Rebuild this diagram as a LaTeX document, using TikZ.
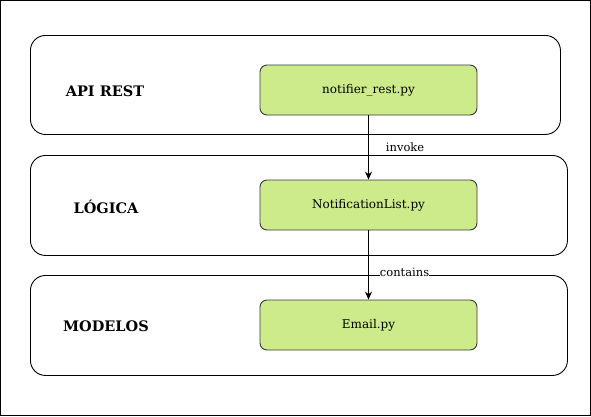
\documentclass[tikz,border=0pt]{standalone}
\usepackage{fontspec}
\setmainfont{DejaVu Serif}
\usetikzlibrary{positioning,arrows.meta}
\definecolor{filegreen}{HTML}{CDEB8B}
\definecolor{fileline}{HTML}{36393D}
\tikzset{
  layer/.style={draw, rounded corners=15pt, line width=0.9pt, anchor=north west},
  layername/.style={font=\fontsize{14.5}{17}\selectfont\bfseries},
  module/.style={draw=fileline, fill=filegreen, rounded corners=7pt, line width=0.9pt,
    minimum width=217pt, minimum height=50pt, font=\fontsize{12}{14}\selectfont},
  uses/.style={-{Stealth[length=8pt,width=7pt]}, line width=0.9pt},
  edgetext/.style={font=\fontsize{11.5}{13}\selectfont, inner sep=0pt}
}
\begin{document}
\begin{tikzpicture}[x=1pt,y=-1pt]
\useasboundingbox (0,0) rectangle (591,416);
\draw[line width=0.9pt] (0.5,0.5) rectangle (590.5,415.5);

\node[layer, minimum width=530pt, minimum height=99pt] (apiLayer) at (30,35) {};
\node[layer, minimum width=537pt, minimum height=100pt] (logicLayer) at (30,155) {};
\node[layer, minimum width=537pt, minimum height=100pt] (modelLayer) at (30,275) {};

\node[layername] (apiName) at (105,91) {API REST};
\node[layername] (logicName) at (106,207) {LÓGICA};
\node[layername] (modelName) at (106,326) {MODELOS};

\node[module] (rest) at (368.5,90) {notifier\_rest.py};
\node[module] (list) at (368.5,205) {NotificationList.py};
\node[module] (email) at (368.5,325) {Email.py};

\draw[uses] (rest) -- node[edgetext, anchor=west, xshift=17pt] {invoke} (list);
\draw[uses] (list) -- node[edgetext, pos=0.6, anchor=west, xshift=11pt, fill=white] {contains} (email);
\end{tikzpicture}
\end{document}
